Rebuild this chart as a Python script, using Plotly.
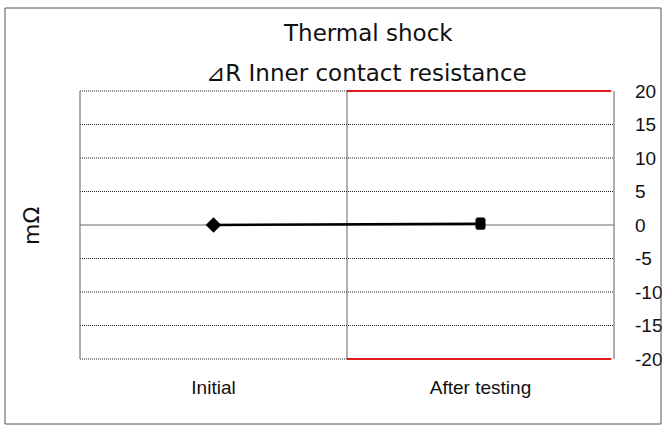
import plotly.graph_objects as go

categories = ["Initial", "After testing"]
delta_r = [0.0, 0.2]
err_after = [0.0, 0.7]
y_ticks = [-20, -15, -10, -5, 0, 5, 10, 15, 20]
y_tick_text = ["-20", "-15", "-10", "-5", "0", "5", "10", "15", "20"]
limit_upper = 20
limit_lower = -20

L, R, T, B = 80, 48, 91, 66
W, H = 662, 425
pw, ph = W - L - R, H - T - B


def px_x(x):
    return (x - L) / pw


def px_y(y):
    return (H - B - y) / ph


def cat_to_paper(c):
    return (c + 0.5) / 2.0


fig = go.Figure()

# line between the two points
fig.add_trace(go.Scatter(
    x=categories, y=delta_r, mode="lines",
    line=dict(color="black", width=2.5), showlegend=False, hoverinfo="skip",
))
fig.add_trace(go.Scatter(
    x=categories[:1], y=delta_r[:1], mode="markers",
    marker=dict(symbol="diamond", size=12, color="black"), showlegend=False,
))
fig.add_trace(go.Scatter(
    x=categories[1:], y=delta_r[1:], mode="markers",
    marker=dict(symbol="square", size=10, color="black"),
    error_y=dict(type="data", array=err_after[1:], color="black", thickness=3, width=4),
    showlegend=False,
))

# dotted gridlines, red limit lines on the after-testing half
for v in y_ticks:
    if v == 0:
        continue
    yp = (v - limit_lower) / (limit_upper - limit_lower)
    if abs(v) == 20:
        fig.add_shape(type="line", xref="paper", yref="paper", x0=0, x1=0.5, y0=yp, y1=yp,
                      line=dict(color="#222", width=1.2, dash="1px,1px"))
        fig.add_shape(type="line", xref="paper", yref="paper", x0=0.5, x1=0.995, y0=yp, y1=yp,
                      line=dict(color="#e31a1c", width=2.2))
    else:
        fig.add_shape(type="line", xref="paper", yref="paper", x0=0, x1=1, y0=yp, y1=yp,
                      line=dict(color="#222", width=1.2, dash="1px,1px"), layer="below")

# zero line and category divider
fig.add_shape(type="line", xref="paper", yref="y", x0=0, x1=1, y0=0, y1=0,
              line=dict(color="#666", width=1), layer="below")
fig.add_shape(type="line", xref="paper", yref="paper", x0=cat_to_paper(0.5), x1=cat_to_paper(0.5),
              y0=0, y1=1, line=dict(color="#666", width=1), layer="below")
# plot frame left and right
for xx in [0, 1]:
    fig.add_shape(type="line", xref="paper", yref="paper", x0=xx, x1=xx, y0=0, y1=1,
                  line=dict(color="#777", width=1.2))

# outer chart border
fig.add_shape(type="rect", xref="paper", yref="paper",
              x0=px_x(5), x1=px_x(661), y0=px_y(424), y1=px_y(8),
              line=dict(color="#555", width=1))

fig.add_annotation(text="Thermal shock", xref="paper", yref="paper",
                   x=px_x(368), y=px_y(33), showarrow=False, xanchor="center", yanchor="middle",
                   font=dict(size=23, color="#111", family="DejaVu Sans"))
fig.add_annotation(text="⊿R Inner contact resistance", xref="paper", yref="paper",
                   x=px_x(366), y=px_y(73), showarrow=False, xanchor="center", yanchor="middle",
                   font=dict(size=23, color="#111", family="DejaVu Sans, Noto Sans CJK JP"))
fig.add_annotation(text="mΩ", xref="paper", yref="paper",
                   x=px_x(31), y=px_y(226), showarrow=False, textangle=-90,
                   xanchor="center", yanchor="middle",
                   font=dict(size=22, color="#111", family="DejaVu Sans"))

fig.update_layout(
    width=W, height=H,
    margin=dict(l=L, r=R, t=T, b=B, autoexpand=False),
    paper_bgcolor="white", plot_bgcolor="white",
    font=dict(family="DejaVu Sans", color="#111"),
    showlegend=False,
)
fig.update_xaxes(type="category", range=[-0.5, 1.5], showgrid=False, zeroline=False,
                 showline=False, ticks="", ticklabelstandoff=15, automargin=False,
                 tickfont=dict(family="Liberation Sans Narrow, Arial Narrow, Liberation Sans", size=19))
fig.update_yaxes(range=[limit_lower, limit_upper], tickvals=y_ticks, ticktext=y_tick_text,
                 side="right", showgrid=False, zeroline=False, showline=False, ticks="",
                 ticklabelstandoff=20, automargin=False,
                 tickfont=dict(family="Liberation Sans Narrow, Arial Narrow, Liberation Sans", size=19))

fig.write_html("out.html", config={"displayModeBar": False},
               post_script="document.body.style.margin='0';document.body.style.overflow='hidden';")
